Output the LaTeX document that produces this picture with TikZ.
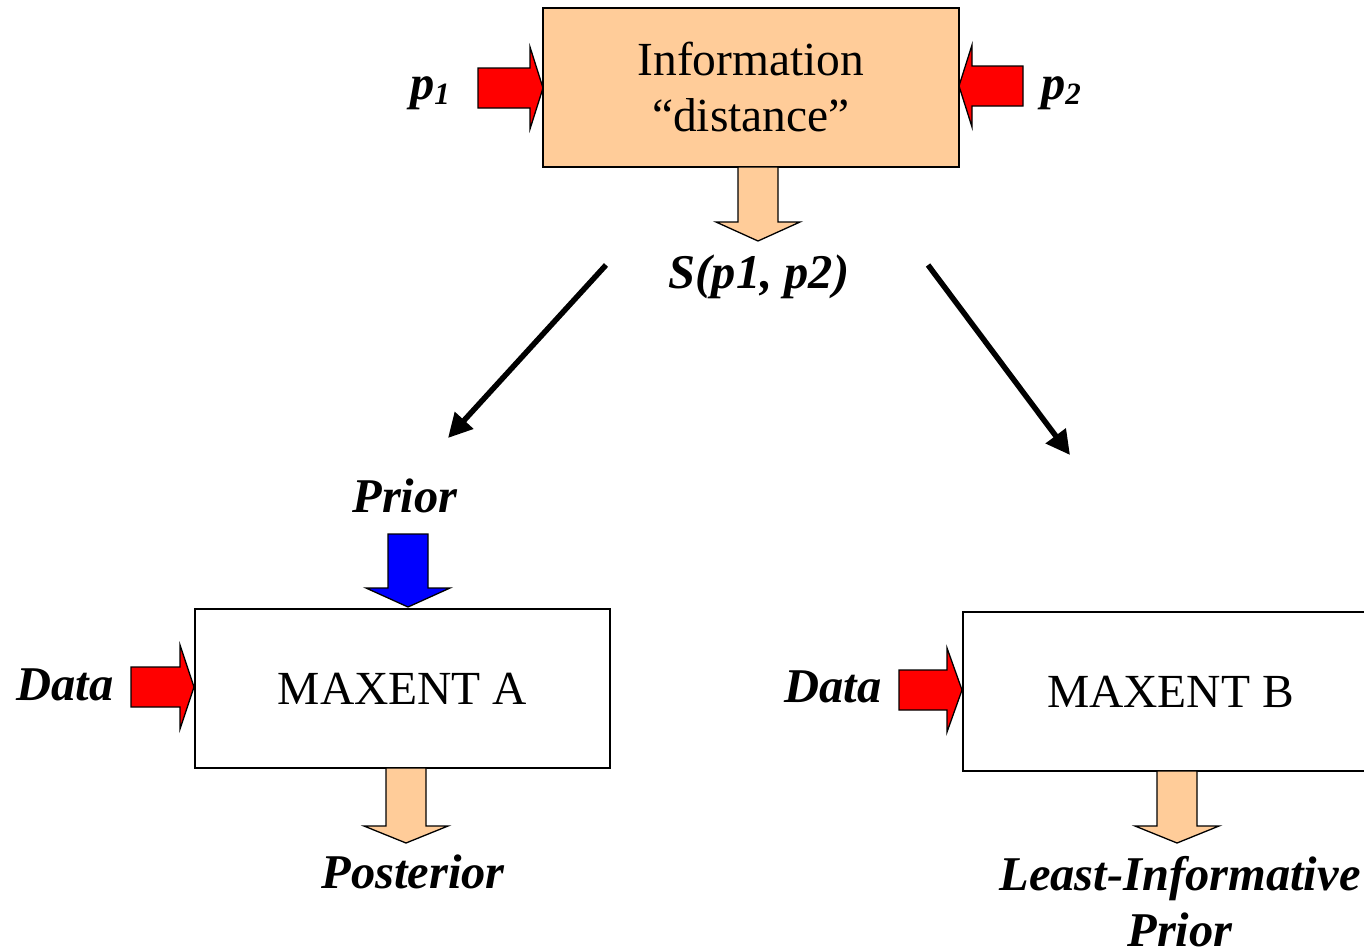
\documentclass[tikz,border=0pt]{standalone}
\usepackage{fontspec}
\setmainfont{Liberation Serif}
\usetikzlibrary{arrows.meta}
\definecolor{peach}{HTML}{FFCC99}
\definecolor{ared}{HTML}{FF0000}
\definecolor{ablue}{HTML}{0000FF}

% block arrows: tip point, shaft length, head length, half head width
\newcommand\blockright[6]{%
  \filldraw[blockarrow, fill=#6] (#1,#2) -- ++(-#4,-#5) -- ++(0,#5-20) -- ++(-#3,0)
    -- ++(0,40) -- ++(#3,0) -- ++(0,#5-20) -- cycle;}
\newcommand\blockleft[6]{%
  \filldraw[blockarrow, fill=#6] (#1,#2) -- ++(#4,-#5) -- ++(0,#5-20) -- ++(#3,0)
    -- ++(0,40) -- ++(-#3,0) -- ++(0,#5-20) -- cycle;}
\newcommand\blockdown[6]{%
  \filldraw[blockarrow, fill=#6] (#1,#2) -- ++(-#5,-#4) -- ++(#5-20,0) -- ++(0,-#3)
    -- ++(40,0) -- ++(0,#3) -- ++(#5-20,0) -- cycle;}

\begin{document}
\begin{tikzpicture}[x=1pt,y=-1pt,
  blockarrow/.style={draw=black, line width=1.3pt, line join=miter},
  procbox/.style={draw=black, line width=1.8pt, minimum width=416pt, minimum height=159pt,
    align=center, inner sep=0pt, font=\fontsize{47.5}{56}\selectfont},
  lbl/.style={anchor=base, inner sep=0pt, font=\fontsize{48.5}{56}\selectfont\bfseries\itshape},
  bigarrow/.style={line width=5.5pt, -{Triangle[length=24pt,width=24pt]}}]
\useasboundingbox (0,0) rectangle (1364,950);
\clip (0,0) rectangle (1364,950);

% top stage
\node[procbox, fill=peach] (info) at (751,87.5) {Information\\“distance”};
\blockright{543}{88}{52}{13}{41}{ared}
\blockleft{959}{86}{51}{13}{41}{ared}
\node[lbl] (p1) at (430,99) {p\raisebox{-0.25ex}{\fontsize{31}{31}\selectfont 1}};
\node[lbl] (p2) at (1061,99) {p\raisebox{-0.25ex}{\fontsize{31}{31}\selectfont 2}};
\blockdown{758}{241}{55}{19}{42}{peach}
\node[lbl] (S) at (759,288) {S(p1, p2)};

% branches
\coordinate (sL) at (606,265);
\coordinate (eL) at (448,438);
\coordinate (sR) at (928,265);
\coordinate (eR) at (1070,455);
\draw[bigarrow] (sL) -- (eL);
\draw[bigarrow] (sR) -- (eR);

% MAXENT A
\node[procbox, minimum width=415pt] (A) at (402.5,688.5) {MAXENT A};
\node[lbl] (prior) at (405,512) {Prior};
\blockdown{408}{607}{54}{19}{42}{ablue}
\blockright{194}{687}{49}{14}{42}{ared}
\node[lbl] (dataA) at (65,700) {Data};
\blockdown{406}{843}{58}{17}{42}{peach}
\node[lbl] (post) at (413,888) {Posterior};

% MAXENT B
\node[procbox, minimum width=415pt] (B) at (1170.5,691.5) {MAXENT B};
\blockright{962}{690}{48}{15}{42}{ared}
\node[lbl] (dataB) at (833,702) {Data};
\blockdown{1177}{843}{55}{17}{42}{peach}
\node[lbl] (lip1) at (1180,890) {Least-Informative};
\node[lbl] (lip2) at (1180,946) {Prior};
\end{tikzpicture}
\end{document}
